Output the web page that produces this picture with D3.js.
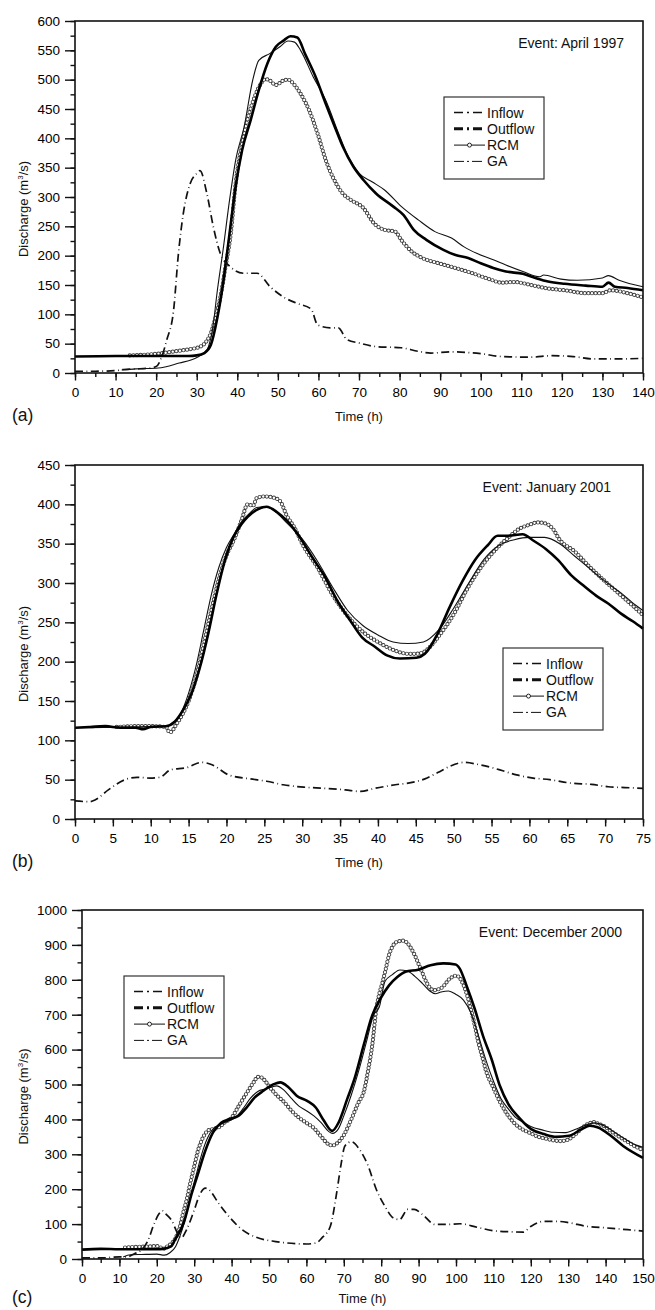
<!DOCTYPE html>
<html>
<head>
<meta charset="utf-8">
<script src="https://cdn.jsdelivr.net/npm/d3@7"></script>
<style>
  html, body { margin: 0; padding: 0; background: #fff; }
  svg { display: block; font-family: "Liberation Sans", Arial, sans-serif; }
</style>
</head>
<body>
<svg id="chart" width="655" height="1310"></svg>
<script>
// --- Data: [time (h), discharge (m3/s)] ---
const inflowA = [[0,3],[5,3],[10,4],[12,6],[15,7],[18,8],[20,11],[21.5,30],[22.6,56],[24.3,107],[25.5,204],[26.7,272],[28.4,323],[30,340],[30.8,345],[32.5,306],[34.1,249],[35.8,204],[38.3,181],[41.6,170],[44.9,170],[48.1,147],[51.5,129],[54.6,119],[58.2,109],[59.8,82],[62.9,77],[64.9,77],[67,57],[70.1,51],[74.2,45],[80.4,43],[84.6,37],[87.7,34],[92.8,36],[100,33],[105.2,28],[112.4,27],[117.6,29.5],[122.8,28],[127.9,24],[134.1,24],[140,25]];
const outflowA = [[0,28],[10,29],[20,29],[28,29],[30,30],[31.9,34],[33.5,48],[35,91],[36.5,153],[38.1,238],[39.6,318],[41.2,380],[43.3,431],[45.3,482],[47.4,527],[49.5,556],[51.5,567],[53.1,574],[54.8,572],[56.7,544],[59.3,505],[61.8,459],[63.9,422],[66,386],[68.6,352],[71.1,329],[74.2,306],[78.4,284],[81,269],[83.5,244],[86.6,227],[90.8,210],[93.8,201],[96.9,196],[100,187],[103.1,179],[106.2,173],[110.4,169],[113.5,162],[116.6,156],[120.7,152],[125.9,149],[130,147],[131.5,154],[133.1,147],[136.2,145],[140,141]];
const rcmA = [[13.5,30],[20.5,33],[24.7,37],[27.8,40],[30.9,45],[32.4,54],[33.5,68],[34.5,91],[35.7,125],[37.1,181],[38.4,238],[39.6,323],[41.2,391],[42.7,437],[44.3,471],[45.8,493],[46.9,501],[47.9,499],[49.5,491],[51.5,499],[52.5,500],[54.1,491],[55.6,476],[57.7,448],[59.8,408],[61.8,363],[63.9,329],[66,306],[68,295],[71.1,281],[73.7,255],[76.3,244],[78.9,241],[80.4,227],[83,207],[85.6,196],[89.7,187],[93.8,179],[98,170],[102.1,160],[105.2,154],[108.3,155],[112.4,150],[116.6,144],[120.7,141],[125.9,136],[130,136],[132,141],[136.2,136],[140,129]];
const gaA = [[11.5,5],[15,7],[20.5,8.5],[25.7,17],[29.8,25.5],[31.9,35],[32.9,45],[34,79],[35,136],[36.5,210],[38.1,295],[39.6,363],[41.7,420],[43.8,499],[45.3,533],[47.9,544],[50.5,556],[52.5,566],[54.1,564],[55.6,550],[58.7,505],[61.8,465],[65,408],[67,374],[70.1,340],[73.2,326],[76.3,312],[80.4,284],[84.6,261],[88.7,241],[92.8,230],[95.9,215],[99,204],[103.1,193],[106.2,184],[110.4,173],[114.6,164],[115.5,167],[119.8,160],[123.8,158],[130,162],[131.5,166],[134.1,158],[140,147]];

const inflowB = [[0,23],[1.9,22],[2.7,24.5],[4.4,37],[6.6,50],[8.2,53],[9.9,52],[11.2,53],[12.6,62.5],[14.8,65.5],[16.7,72],[18.1,69],[20.3,56],[23.1,51],[25.3,48],[27.5,43.5],[30.2,40.5],[33,39],[35.7,37],[37.7,35],[39.6,39],[42.3,43.5],[44.5,46.5],[46.2,51],[47.9,59],[49.5,67],[51.4,72],[53.4,69],[56.1,62.5],[58.3,56],[60.5,52],[62.7,50],[65.5,45.6],[68.2,44],[70.4,41],[72.6,40],[75,39]];
const outflowB = [[0,116],[2,117],[4,118],[6,116],[8,116],[9,114],[10,117],[12,118],[13.2,124],[14.3,139],[15.4,160],[16.5,193],[17.6,236],[18.7,286],[19.8,329],[20.9,358],[22,375],[22.8,384],[24.2,394],[25.3,397],[26.7,390],[28,379],[29.7,358],[31.3,333],[33,308],[34.6,278],[36.3,253],[37.9,231],[39.6,219],[41.2,208],[42.9,204],[45.1,205],[46.2,210],[47.9,236],[49.5,270],[51.2,303],[52.8,329],[54.5,348],[55.8,360],[57.2,360],[59.1,362],[60.5,354],[62.2,343],[63.8,329],[65.5,310],[67.1,297],[68.8,284],[70.4,274],[72.1,261],[73.7,251],[75,242]];
const rcmB = [[5.5,117],[8,118],[10,118],[12,117],[12.5,110],[13.5,122],[15,150],[16,180],[17,222],[18,265],[19,305],[20,335],[21,355],[22,380],[22.8,400],[23.5,398],[24,408],[25,410],[26,409],[27,405],[28,385],[29,370],[30,350],[32,320],[34,285],[36,258],[38,238],[40,225],[42,215],[44,210],[45,210],[46,212],[47,220],[48,232],[50,260],[52,296],[54,325],[56,347],[57.5,360],[58.5,368],[60,374],[61,377],[62,376],[63,370],[64,355],[66,340],[68,320],[70,302],[72,285],[74,268],[75,259]];
const gaB = [[0,116],[12,118],[13,122],[14,135],[15,160],[16,195],[17,240],[18,285],[19,320],[20,345],[21,362],[22,378],[23,388],[24,396],[25,397],[26,394],[27,386],[28,376],[30,356],[32,328],[34,295],[36,265],[38,246],[40,234],[42,225],[44,223],[46,225],[48,240],[50,268],[52,300],[54,330],[56,348],[58,355],[60,358],[62,358],[64,350],[66,334],[68,318],[70,302],[72,288],[74,272],[75,265]];

const inflowC = [[0,3],[5,3],[10,6],[12,6],[14,15],[16,27],[17.5,50],[19.4,104],[20.5,128],[21.5,138],[22.5,128],[24,110],[25.5,75],[26.5,60],[28,85],[30,140],[31.5,185],[33,203],[34,198],[36.5,160],[40.1,112],[42.8,84],[46.4,63],[51.8,50],[57.2,44],[60,43],[62.6,46],[64.1,60],[66.4,94],[68.1,190],[69.2,267],[70.3,324],[72,336],[74.2,314],[76.5,267],[78.7,199],[81,151],[83.2,118],[84.9,113],[87.1,142],[88.8,142],[91,128],[94.4,99],[97.7,99],[101.1,101],[105.6,91],[110,81],[114.5,78],[117.9,77],[120.1,94],[123.5,108],[126.8,108],[130.2,104],[134.7,94],[140.3,89],[145.9,84],[150,80]];
const outflowC = [[0,27],[5,29],[10,28],[15,28],[19.9,28],[21.6,29],[23.8,36],[24.9,56],[27.2,104],[29.4,190],[31.1,247],[32.8,305],[35,362],[37.3,391],[39.5,401],[41.8,410],[44,434],[46.2,463],[48.5,482],[51.3,501],[53,506],[55.2,492],[57.4,468],[60.2,453],[62.5,434],[64.7,396],[66.9,367],[68.6,391],[70.9,458],[73.1,525],[75.3,612],[77.6,698],[79.8,746],[82.1,784],[84.3,808],[86.5,823],[89.9,829],[93.2,842],[96.6,847],[99.9,844],[101,832],[102.8,784],[105,717],[107.2,640],[109.5,573],[111.7,497],[114,444],[116.8,406],[120.1,372],[123.5,358],[126.8,350],[130.2,353],[133.6,372],[135.8,382],[138,377],[141.4,353],[144.7,324],[150,290]];
const rcmC = [[11.5,33],[15,35],[18,36],[20,37],[21,33],[22,30],[23,38],[24,45],[25,60],[26,85],[27,130],[28,170],[29,220],[30,265],[31,310],[32,340],[33,360],[34,370],[35,372],[36,375],[37,380],[38,390],[40,405],[42,440],[44,475],[46,508],[47,522],[48,520],[49,510],[50,495],[52,470],[54,450],[56,425],[58,405],[60,390],[62,375],[64,350],[66,328],[67,325],[68,330],[70,355],[72,400],[74,450],[75.3,477],[76.5,540],[77.6,612],[78.7,717],[79.5,760],[80.4,794],[81.2,830],[82.1,871],[83,895],[84.3,909],[86,912],[87,905],[88,890],[89,870],[90,845],[91,820],[92,795],[93,778],[94,770],[95,772],[96,776],[97,786],[98,800],[99,808],[100,812],[101,805],[102,785],[103,755],[104,715],[105,670],[106,620],[107,580],[108,540],[110,490],[112,445],[114,410],[116,385],[118,370],[120,360],[122,350],[124,345],[126,340],[128,338],[130,342],[132,358],[134,378],[136,390],[137,392],[138,388],[140,378],[142,362],[144,348],[146,335],[148,322],[150,312]];
const gaC = [[11,6],[13,12],[16,13],[20,14],[22,11],[23.5,18],[25,35],[26,60],[27.5,110],[29,180],[30.5,240],[32,300],[33.5,345],[35,372],[37,385],[39,395],[41,405],[43,430],[45,460],[47,480],[49,487],[50.5,492],[52,496],[54,484],[56,460],[58,438],[60,425],[62,410],[64,390],[66,365],[67,360],[68.5,372],[70,410],[72,470],[74,540],[76,620],[78,700],[79.5,722],[81,795],[83,815],[85,828],[87,825],[89,810],[91,790],[93,768],[94.5,760],[96,765],[98,768],[100,758],[102,742],[104,705],[106,640],[108,570],[110,510],[112,460],[114,430],[116,405],[118,392],[120,380],[123,370],[126,363],[129,362],[132,372],[135,385],[137,390],[139,385],[142,366],[145,345],[148,327],[150,320]];

const legendNames = ["Inflow", "Outflow", "RCM", "GA"];
const eventLabels = ["Event: April 1997", "Event: January 2001", "Event: December 2000"];
const panelLetters = ["(a)", "(b)", "(c)"];

// --- Layout of the three panels ---
const panels = [
  { left: 75, right: 643, top: 21, bottom: 373, xMax: 140, yMax: 600,
    xStep: 10, xMinor: 5, yStep: 50, yMinor: 25, titleY: 421,
    series: [inflowA, outflowA, rcmA, gaA], eventRight: 624, legend: [444, 97] },
  { left: 75, right: 643, top: 465, bottom: 819, xMax: 75, yMax: 450,
    xStep: 5, xMinor: 2.5, yStep: 50, yMinor: 25, titleY: 867,
    series: [inflowB, outflowB, rcmB, gaB], eventRight: 611, legend: [503, 648] },
  { left: 82, right: 643, top: 910, bottom: 1259, xMax: 150, yMax: 1000,
    xStep: 10, xMinor: 5, yStep: 100, yMinor: 50, titleY: 1303,
    series: [inflowC, outflowC, rcmC, gaC], eventRight: 622, legend: [124, 976] },
];

const svg = d3.select("#chart");
const ink = "#111";

function drawPanel(p, idx) {
  const g = svg.append("g");
  const x = d3.scaleLinear().domain([0, p.xMax]).range([p.left, p.right]);
  const y = d3.scaleLinear().domain([0, p.yMax]).range([p.bottom, p.top]);
  const path = d3.line().x((d) => x(d[0])).y((d) => y(d[1])).curve(d3.curveMonotoneX);

  // minor ticks first, then major with labels
  const xMinorTicks = d3.range(0, p.xMax + 0.001, p.xMinor);
  const yMinorTicks = d3.range(0, p.yMax + 0.001, p.yMinor);
  const xMajorTicks = d3.range(0, p.xMax + 0.001, p.xStep);
  const yMajorTicks = d3.range(0, p.yMax + 0.001, p.yStep);

  g.append("g").attr("transform", `translate(0,${p.bottom})`)
    .call(d3.axisBottom(x).tickValues(xMinorTicks).tickSize(4).tickFormat(""));
  g.append("g").attr("transform", `translate(${p.left},0)`)
    .call(d3.axisLeft(y).tickValues(yMinorTicks).tickSize(4.5).tickFormat(""));
  g.append("g").attr("transform", `translate(0,${p.bottom})`)
    .call(d3.axisBottom(x).tickValues(xMajorTicks).tickSize(7.5).tickPadding(6.5).tickFormat(d3.format("d")));
  g.append("g").attr("transform", `translate(${p.left},0)`)
    .call(d3.axisLeft(y).tickValues(yMajorTicks).tickSize(10).tickPadding(5).tickFormat(d3.format("d")));

  g.selectAll(".domain").remove();
  g.selectAll(".tick line").attr("stroke", ink).attr("stroke-width", 1.4);
  g.selectAll(".tick text").attr("fill", "#000").attr("font-size", 13.5)
    .attr("font-family", '"Liberation Sans", Arial, sans-serif');

  // RCM: thin line with a chain of open circles
  const rcm = p.series[2];
  g.append("path").attr("d", path(rcm)).attr("fill", "none")
    .attr("stroke", "#333").attr("stroke-width", 0.8);
  g.append("path").attr("d", path(rcm)).attr("fill", "none")
    .attr("stroke", "#3a3a3a").attr("stroke-width", 4.2)
    .attr("stroke-linecap", "round").attr("stroke-dasharray", "0,3.6");
  g.append("path").attr("d", path(rcm)).attr("fill", "none")
    .attr("stroke", "#fff").attr("stroke-width", 2.4)
    .attr("stroke-linecap", "round").attr("stroke-dasharray", "0,3.6");

  // GA
  g.append("path").attr("d", path(p.series[3])).attr("fill", "none")
    .attr("stroke", ink).attr("stroke-width", 1.1);
  // Outflow
  g.append("path").attr("d", path(p.series[1])).attr("fill", "none")
    .attr("stroke", "#000").attr("stroke-width", 2.6);
  // Inflow: long dashes joined by faint short dots
  g.append("path").attr("d", path(p.series[0])).attr("fill", "none")
    .attr("stroke", ink).attr("stroke-width", 1.7)
    .attr("stroke-dasharray", "8,3.5,0.8,3.5");

  // frame
  g.append("rect").attr("x", p.left).attr("y", p.top)
    .attr("width", p.right - p.left).attr("height", p.bottom - p.top)
    .attr("fill", "none").attr("stroke", ink).attr("stroke-width", 1.6);

  // event label
  g.append("text").attr("x", p.eventRight).attr("y", p.top + 27)
    .attr("text-anchor", "end").attr("font-size", 14).attr("fill", ink)
    .text(eventLabels[idx]);

  // axis titles
  const ylab = g.append("text")
    .attr("transform", `translate(28,${(p.top + p.bottom) / 2 + 12}) rotate(-90)`)
    .attr("text-anchor", "middle").attr("font-size", 13).attr("fill", ink);
  ylab.append("tspan").text("Discharge (m");
  ylab.append("tspan").attr("font-size", 8).attr("dy", -5).text("3");
  ylab.append("tspan").attr("dy", 5).text("/s)");

  g.append("text").attr("x", (p.left + p.right) / 2).attr("y", p.titleY)
    .attr("text-anchor", "middle").attr("font-size", 13).attr("fill", ink)
    .text("Time (h)");
  g.append("text").attr("x", 12).attr("y", p.titleY)
    .attr("font-size", 17.5).attr("fill", ink).text(panelLetters[idx]);

  drawLegend(g, p.legend[0], p.legend[1]);
}

function drawLegend(g, lx, ly) {
  const lg = g.append("g").attr("transform", `translate(${lx},${ly})`);
  lg.append("rect").attr("width", 100).attr("height", 82)
    .attr("fill", "#fff").attr("stroke", "#333").attr("stroke-width", 1.2);
  const styles = [
    { w: 1.5, dash: "9,4,2,4" },
    { w: 3, dash: "9,4,2,4" },
    { w: 1, dash: null, circle: true },
    { w: 1, dash: "10,3,2,3" },
  ];
  legendNames.forEach((name, i) => {
    const cy = 15.5 + i * 16.3;
    const s = styles[i];
    const l = lg.append("line").attr("x1", 10).attr("x2", 41)
      .attr("y1", cy).attr("y2", cy).attr("stroke", ink).attr("stroke-width", s.w);
    if (s.dash) l.attr("stroke-dasharray", s.dash);
    if (s.circle) {
      lg.append("circle").attr("cx", 25.5).attr("cy", cy).attr("r", 2)
        .attr("fill", "#fff").attr("stroke", ink).attr("stroke-width", 0.9);
    }
    lg.append("text").attr("x", 43).attr("y", cy + 5)
      .attr("font-size", 14).attr("fill", ink).text(name);
  });
}

panels.forEach(drawPanel);
</script>
</body>
</html>
